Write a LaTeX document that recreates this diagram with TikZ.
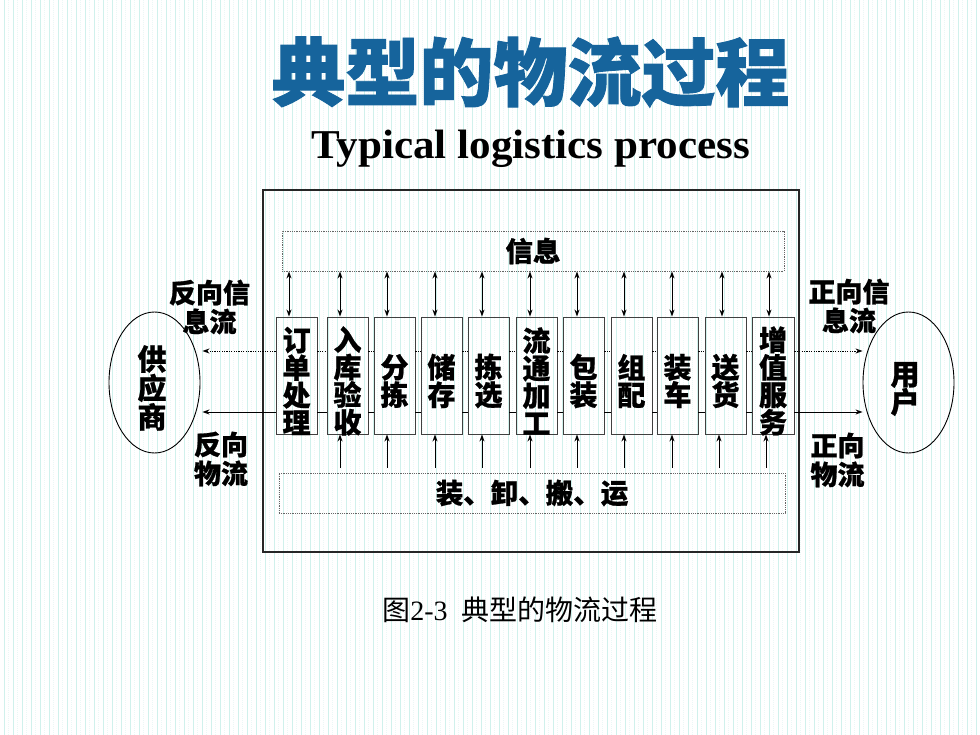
\documentclass[tikz,border=0pt]{standalone}
\usepackage{fontspec}
\setmainfont{Liberation Serif}
\newfontfamily\cjk{Noto Sans CJK SC}
\newfontfamily\cjkheavy{Noto Sans CJK SC}[BoldFeatures={FakeBold=1.2}]
\newfontfamily\cjkbox{Noto Sans CJK SC}[BoldFeatures={FakeBold=0.8}]
\usetikzlibrary{arrows.meta,shapes.geometric,calc}
\definecolor{titleblue}{HTML}{16649C}
\definecolor{stripe}{HTML}{D0F1EC}
\definecolor{stripelight}{HTML}{EAF8F6}
\tikzset{
  procbox/.style={draw=black!75, line width=0.9pt, minimum width=41pt, minimum height=117pt, inner sep=0pt},
  proctext/.style={font=\cjkbox\bfseries\fontsize{28}{27.5}\selectfont, align=center, inner sep=0pt},
  dotbox/.style={draw=black!60, line width=0.9pt, dash pattern=on 0.9pt off 0.9pt, inner sep=0pt,
                 font=\cjkbox\bfseries\fontsize{27.5}{27.5}\selectfont},
  flowlabel/.style={font=\cjkbox\bfseries\fontsize{27}{29}\selectfont, align=center, inner sep=0pt},
  party/.style={ellipse, draw=black, line width=0.9pt, minimum width=91pt, minimum height=141pt, inner sep=0pt},
  partytext/.style={font=\cjkbox\bfseries\fontsize{29}{29}\selectfont, align=center, inner sep=0pt},
  arrowtip/.style={-{Stealth[length=7pt,width=5pt]}},
  dblarrow/.style={{Stealth[length=7pt,width=5pt]}-{Stealth[length=7pt,width=5pt]}},
  infoflow/.style={draw=black, line width=0.9pt, dash pattern=on 1.1pt off 1.3pt},
  matflow/.style={draw=black, line width=0.9pt},
  connline/.style={draw=black, line width=0.9pt}
}
\begin{document}
\begin{tikzpicture}[x=1pt,y=-1pt]
\useasboundingbox (0,0) rectangle (980,735);
% background
\fill[white] (0,0) rectangle (980,735);
\foreach \k in {0,...,108} {
  \draw[stripe, line width=1pt] (\k*9+4,0) -- (\k*9+4,735);
  \draw[stripelight, line width=0.8pt, dash pattern=on 1pt off 1pt] (\k*9+8.5,0) -- (\k*9+8.5,735);
}
% title
\node[font=\cjkheavy\bfseries\fontsize{74}{74}\selectfont, text=titleblue, inner sep=0pt] (title) at (530.5,72) {典型的物流过程};
\node[font=\bfseries\fontsize{41}{41}\selectfont, anchor=base, inner sep=0pt] (subtitle) at (530.5,159) {\scalebox{1.05}[1]{Typical logistics process}};
% frame
\node[draw=black!85, line width=1.2pt, minimum width=536pt, minimum height=362pt, inner sep=0pt] (frame) at (531,371) {};
% info and handling boxes
\node[dotbox, minimum width=502pt, minimum height=40pt] (info) at (533,251) {信息};
\node[dotbox, minimum width=506pt, minimum height=40pt] (bot) at (532,493) {装、卸、搬、运};
% process boxes
\foreach \i/\cx/\w/\txt in {
  1/296.5/41/{订\\单\\处\\理},
  2/347.5/41/{入\\库\\验\\收},
  3/394.5/41/{分\\拣},
  4/441.5/41/{储\\存},
  5/488.5/41/{拣\\选},
  6/536.5/41/{流\\通\\加\\工},
  7/583.5/41/{包\\装},
  8/631.5/41/{组\\配},
  9/677.5/41/{装\\车},
  10/725.5/41/{送\\货},
  11/773/42/{增\\值\\服\\务}} {
  \node[procbox, minimum width=\w pt] (b\i) at (\cx,375.5) {};
  \node[proctext] (t\i) at (\cx,381) {\txt};
  \coordinate (iw\i) at ([yshift=24.5pt]b\i.west);
  \coordinate (ie\i) at ([yshift=24.5pt]b\i.east);
  \coordinate (mw\i) at ([yshift=-36.5pt]b\i.west);
  \coordinate (me\i) at ([yshift=-36.5pt]b\i.east);
}
% supplier and customer
\node[party] (sup) at (154.5,382.5) {};
\node[partytext] (suptext) at (152,388) {供\\应\\商};
\node[party] (user) at (908.5,382.5) {};
\node[partytext, font=\cjkbox\bfseries\fontsize{29}{28}\selectfont] (usertext) at (905,389) {用\\户};
% flow labels
\node[flowlabel] (lblinfoL) at (209.5,307) {反向信\\息流};
\node[flowlabel] (lblmatL) at (221,459) {反向\\物流};
\node[flowlabel] (lblinfoR) at (849,306) {正向信\\息流};
\node[flowlabel] (lblmatR) at (837.5,460) {正向\\物流};
% lines between boxes
\draw[infoflow] (ie1) -- (iw2) (ie2) -- (iw3) (ie3) -- (iw4) (ie4) -- (iw5) (ie5) -- (iw6)
  (ie6) -- (iw7) (ie7) -- (iw8) (ie8) -- (iw9) (ie9) -- (iw10) (ie10) -- (iw11);
\draw[matflow] (me1) -- (mw2) (me2) -- (mw3) (me3) -- (mw4) (me4) -- (mw5) (me5) -- (mw6)
  (me6) -- (mw7) (me7) -- (mw8) (me8) -- (mw9) (me9) -- (mw10) (me10) -- (mw11);
% flows to supplier and customer
\coordinate (supI) at ([xshift=2pt]iw1 -| sup.east);
\coordinate (supM) at ([xshift=2pt]mw1 -| sup.east);
\coordinate (userI) at (ie11 -| user.west);
\coordinate (userM) at (me11 -| user.west);
\draw[infoflow, arrowtip] (iw1) -- (supI);
\draw[matflow, arrowtip] (mw1) -- (supM);
\draw[infoflow, arrowtip] (ie11) -- (userI);
\draw[matflow, arrowtip] (me11) -- (userM);
% information arrows
\foreach \i/\dx in {1/-7.5,2/-7.5,3/-7.5,4/-6.5,5/-6.5,6/-6.5,7/-6.5,8/-7.5,9/-5.5,10/-3.5,11/-4} {
  \draw[connline, dblarrow] ([xshift=\dx pt]b\i.north) -- ([xshift=\dx pt]b\i.north |- info.south);
}
% handling arrows
\foreach \i/\dx in {2/-7.5,3/-7.5,4/-6.5,5/-6.5,6/-6.5,7/-6.5,8/-7.5,9/-5.5,10/-6.5,11/-7} {
  \coordinate (hs\i) at ([xshift=\dx pt]b\i.south |- bot.north);
  \draw[connline, arrowtip] ([yshift=5pt]hs\i) -- ([xshift=\dx pt]b\i.south);
}
% caption
\node[font=\fontsize{28}{28}\selectfont, inner sep=0pt] (caption) at (520,610) {{\cjk 图}2-3\hspace{14pt}{\cjk 典型的物流过程}};
\end{tikzpicture}
\end{document}
